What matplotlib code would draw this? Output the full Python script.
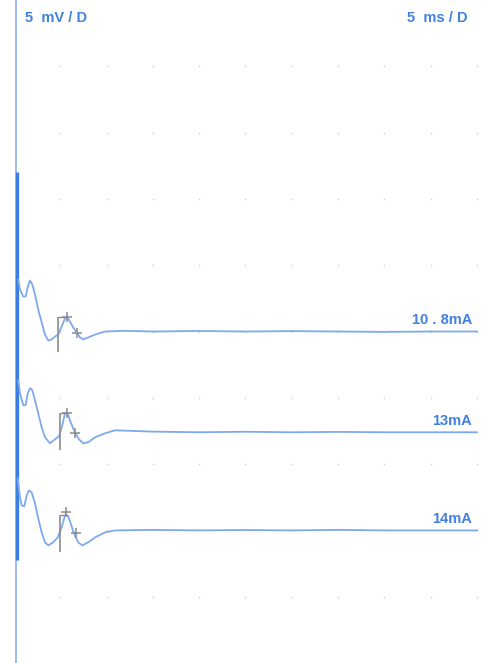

# three evoked responses at increasing stimulus current, drawn on a 10 x 10 division screen
import matplotlib.pyplot as plt

ms_per_div = 5
mv_per_div = 5

labels = ['10 . 8mA', '13mA', '14mA']
baselines = [25.0, 17.4, 10.0]   # mV, where each trace sits on the screen

# time (ms) and amplitude (mV, relative to the trace baseline)
t1 = [0.46, 0.65, 1.00, 1.26, 1.48, 1.73, 1.98, 2.27, 2.62, 2.99, 3.35, 3.70, 4.07, 4.43, 4.78,
      5.15, 5.51, 5.76, 6.05, 6.40, 6.77, 7.13, 7.48, 8.02, 8.75, 9.83, 12.0, 15.0, 20.0, 25.0,
      30.0, 35.0, 40.0, 45.0, 50.0]
v1 = [3.92, 3.17, 2.64, 2.64, 3.32, 3.85, 3.54, 2.79, 1.66, 0.68, -0.23, -0.68, -0.60, -0.38, -0.23,
      0.38, 0.98, 1.06, 0.75, 0.30, -0.08, -0.45, -0.60, -0.45, -0.23, 0.0, 0.05, 0.0, 0.04, 0.0,
      0.03, 0.0, -0.03, 0.0, 0.0]

t2 = [0.46, 0.65, 1.00, 1.26, 1.48, 1.73, 1.98, 2.27, 2.62, 2.99, 3.35, 3.89, 4.43, 4.86, 5.22,
      5.51, 5.80, 6.12, 6.59, 7.02, 7.48, 8.02, 8.75, 9.83, 10.9, 15.0, 20.0, 25.0, 30.0, 35.0,
      40.0, 45.0, 50.0]
v2 = [3.92, 2.94, 2.04, 2.04, 2.94, 3.32, 3.17, 2.41, 1.43, 0.38, -0.38, -0.83, -0.53, -0.30, 0.53,
      1.43, 1.43, 0.75, 0.0, -0.53, -0.83, -0.75, -0.38, -0.08, 0.15, 0.05, 0.0, 0.04, 0.0, 0.03,
      0.0, 0.0, 0.0]

t3 = [0.40, 0.65, 0.83, 1.11, 1.37, 1.62, 1.91, 2.27, 2.62, 2.99, 3.35, 3.70, 4.24, 4.72, 5.15,
      5.51, 5.80, 6.12, 6.48, 6.94, 7.37, 8.02, 8.75, 9.83, 10.9, 15.0, 20.0, 25.0, 30.0, 35.0,
      40.0, 45.0, 50.0]
v3 = [3.92, 2.49, 1.89, 1.81, 2.64, 3.02, 2.87, 2.04, 0.90, -0.15, -0.90, -1.13, -0.90, -0.53, 0.23,
      1.13, 1.13, 0.53, -0.23, -0.90, -1.13, -0.90, -0.53, -0.15, 0.0, 0.04, 0.0, 0.03, 0.0, 0.04,
      0.0, 0.0, 0.0]

times = [t1, t2, t3]
values = [v1, v2, v3]

# latency cursor and the two peak cursors on each trace (ms, mV relative to baseline)
onset_t = [4.75, 4.97, 4.97]
onset_lo = [-1.51, -1.36, -1.66]
onset_hi = [1.13, 1.43, 1.13]
peak_t = [5.76, 5.69, 5.62]
peak_v = [1.06, 1.43, 1.36]
trough_t = [6.77, 6.59, 6.70]
trough_v = [-0.08, -0.08, -0.23]

trace_color = '#7fa9ee'
text_color = '#3f80e2'
cursor_color = '#8c8c8c'
font = ['Liberation Sans', 'DejaVu Sans']

fig = plt.figure(figsize=(4.84, 6.63), dpi=100)
ax = fig.add_axes([0, 0, 1, 1])
ax.set_xlim(-1.51, 50.76)
ax.set_ylim(0, 50)
ax.axis('off')

# dotted graticule (inner rows only, the edge rows fall off the screen)
for gx in range(ms_per_div, 51, ms_per_div):
    for gy in range(mv_per_div, 50, mv_per_div):
        ax.plot(gx, gy, 's', ms=1.1, color='#d2d2d2', mew=0)

# sweep start line and the stimulus artifact
ax.vlines(0.2, 0, 50, color='#93b6f0', lw=1.3)
ax.vlines(0.3, 7.8, 37.0, color='#3a7ee3', lw=2.4)

for i in range(3):
    base = baselines[i]
    ax.plot(times[i], [base + v for v in values[i]], color=trace_color, lw=1.3)
    ax.vlines(onset_t[i], base + onset_lo[i], base + onset_hi[i], color=cursor_color, lw=1.2)
    ax.hlines(base + onset_hi[i], onset_t[i], onset_t[i] + 0.8, color=cursor_color, lw=1.0)
    ax.plot(peak_t[i], base + peak_v[i], '+', ms=7, mew=1.1, color=cursor_color)
    ax.plot(trough_t[i], base + trough_v[i], '+', ms=7, mew=1.1, color=cursor_color)
    ax.text(49.5, base + 0.35, labels[i], ha='right', va='bottom', fontsize=10.5,
            fontweight='bold', color=text_color, family=font)

ax.text(0.052, 0.973, '5  mV / D', transform=ax.transAxes, ha='left', va='center',
        fontsize=10.5, fontweight='bold', color=text_color, family=font)
ax.text(0.967, 0.973, '5  ms / D', transform=ax.transAxes, ha='right', va='center',
        fontsize=10.5, fontweight='bold', color=text_color, family=font)

fig.savefig('out.png', dpi=100)
